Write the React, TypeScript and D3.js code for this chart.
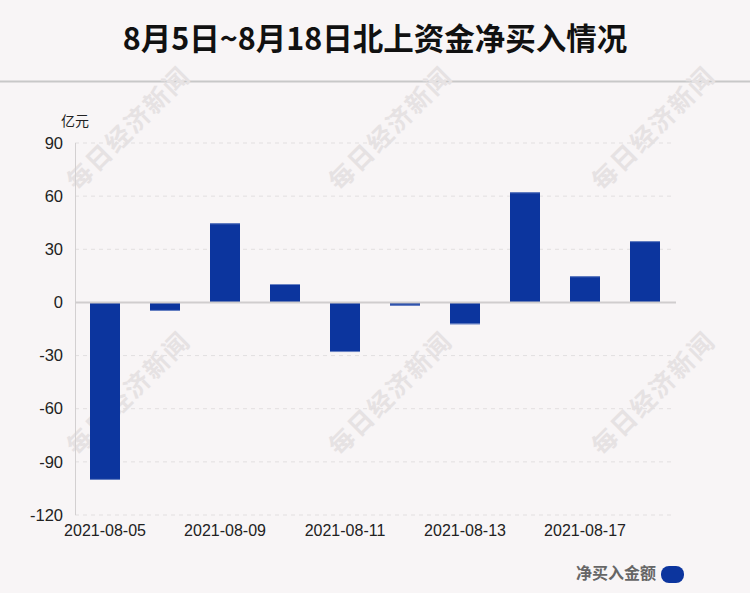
import React from "react";
import * as d3 from "d3";

const dates = ["2021-08-05","2021-08-06","2021-08-09","2021-08-10","2021-08-11","2021-08-12","2021-08-13","2021-08-16","2021-08-17","2021-08-18"];
const netBuy = [-100.2, -4.8, 44.7, 10.4, -28.0, -1.8, -12.3, 62.2, 14.8, 34.6];
const yTicks = [90, 60, 30, 0, -30, -60, -90, -120];
const xLabelDates = ["2021-08-05","2021-08-09","2021-08-11","2021-08-13","2021-08-17"];
const titleText = "8月5日~8月18日北上资金净买入情况";
const unitText = "亿元";
const legendText = "净买入金额";
const watermark = "每日经济新闻";

const W = 750, H = 593;
const left = 75, right = 675, top = 143, bottom = 515;
const barColor = "#0c359e";

export default function App() {
  const x = d3.scaleBand<string>().domain(dates).range([left, right]).paddingInner(0.5).paddingOuter(0.25);
  const y = d3.scaleLinear().domain([-120, 90]).range([bottom, top]);
  const font = "'Liberation Sans', Arial, sans-serif";
  const cjk = "'Noto Sans CJK SC', sans-serif";
  const wmPos = [[130,130],[392,130],[655,130],[130,395],[392,395],[655,395]];
  return (
    <svg width={W} height={H} style={{ position: "absolute", left: 0, top: 0, display: "block" }}>
      <rect x={0} y={0} width={W} height={H} fill="#f8f5f6" />
      <text x={W / 2} y={50} textAnchor="middle" fontFamily={cjk} fontWeight="bold" fontSize={30.5} fill="#111">{titleText}</text>
      <line x1={0} x2={W} y1={81.5} y2={81.5} stroke="#c8c8c8" strokeWidth={2} />
      {wmPos.map(([cx, cy], i) => (
        <text key={i} x={cx} y={cy} transform={`rotate(-45 ${cx} ${cy})`} textAnchor="middle" dominantBaseline="middle"
          fontFamily={cjk} fontWeight="bold" fontSize={25} fill="#e6e2e3" letterSpacing={2}>{watermark}</text>
      ))}
      {yTicks.map(t => (
        <g key={t}>
          {t !== 0 && <line x1={left} x2={672} y1={y(t)} y2={y(t)} stroke="#e2dfe0" strokeDasharray="4,4" />}
          <text x={63} y={y(t)} dy="0.35em" textAnchor="end" fontFamily={font} fontSize={16.5} fill="#222">{t}</text>
        </g>
      ))}
      <line x1={75.5} x2={75.5} y1={top} y2={bottom} stroke="#d3d0d1" />
      <text x={61} y={126} fontFamily={cjk} fontSize={14} fill="#222">{unitText}</text>
      {dates.map((d, i) => {
        const v = netBuy[i];
        const y0 = y(0), y1 = y(v);
        const yy = Math.min(y0, y1), h = Math.abs(y1 - y0);
        const xx = x(d)!;
        return (
          <g key={d}>
            <rect x={xx} y={yy} width={x.bandwidth()} height={h} fill={barColor} />
            <line x1={xx} x2={xx + x.bandwidth()} y1={y1 + (v >= 0 ? 0.5 : -0.5)} y2={y1 + (v >= 0 ? 0.5 : -0.5)} stroke="#6b84c4" strokeWidth={1} />
          </g>
        );
      })}
      <line x1={left} x2={676} y1={y(0)} y2={y(0)} stroke="#d0cdce" strokeWidth={2} />
      {xLabelDates.map(d => (
        <text key={d} x={x(d)! + x.bandwidth() / 2} y={536} textAnchor="middle" fontFamily={font} fontSize={16} fill="#222">{d}</text>
      ))}
      <text x={656} y={579} textAnchor="end" fontFamily={cjk} fontWeight="bold" fontSize={16} fill="#666">{legendText}</text>
      <rect x={661} y={566} width={23} height={17} rx={8} fill={barColor} />
    </svg>
  );
}
